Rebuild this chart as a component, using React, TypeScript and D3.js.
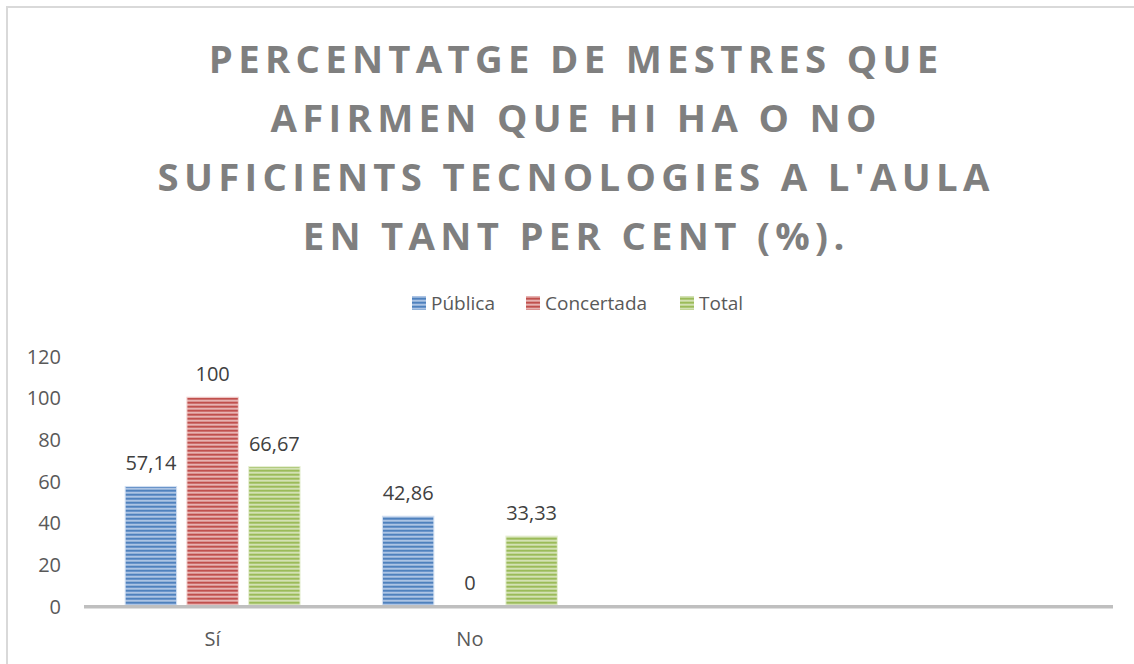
import React from "react";
import * as d3 from "d3";

const categories = ["Sí", "No", "", ""];
const seriesNames = ["Pública", "Concertada", "Total"];
const publica = [57.14, 42.86, null, null];
const concertada = [100, 0, null, null];
const total = [66.67, 33.33, null, null];
const yTicks = [0, 20, 40, 60, 80, 100, 120];
const titleLines = [
  "PERCENTATGE DE MESTRES QUE",
  "AFIRMEN QUE HI HA O NO",
  "SUFICIENTS TECNOLOGIES A L'AULA",
  "EN TANT PER CENT (%).",
];

const seriesValues = [publica, concertada, total];
const colors = [
  { dark: "#4f81bd", mid: "#86a8d6", light: "#d3e0f2" },
  { dark: "#c0504d", mid: "#d9908e", light: "#f4d6d5" },
  { dark: "#9bbb59", mid: "#bdd292", light: "#e8f0d6" },
];

const W = 1134;
const H = 664;
const left = 84;
const right = 1113;
const top = 355.5;
const bottom = 605.5;
const font = "'Open Sans', sans-serif";
const titleSpacing = 5.3;

export default function App() {
  const x0 = d3
    .scaleBand<number>()
    .domain(categories.map((_, i) => i))
    .range([left, right])
    .paddingInner(0)
    .paddingOuter(0);
  const x1 = d3
    .scaleBand<number>()
    .domain(seriesNames.map((_, i) => i))
    .range([0, x0.bandwidth()])
    .paddingInner(0.1667)
    .paddingOuter(0.6667);
  const y = d3.scaleLinear().domain([0, 120]).range([bottom, top]);

  const fmt = (v: number) => String(v).replace(".", ",");

  return (
    <svg
      width={W}
      height={H}
      style={{ position: "absolute", left: 0, top: 0, background: "#fff" }}
    >
      <defs>
        {colors.map((c, i) => (
          <pattern
            key={i}
            id={`stripe${i}`}
            patternUnits="userSpaceOnUse"
            width={8}
            height={4}
            y={bottom}
          >
            <rect x={0} y={0} width={8} height={2} fill={c.dark} />
            <rect x={0} y={2} width={8} height={1} fill={c.mid} />
            <rect x={0} y={3} width={8} height={1} fill={c.light} />
          </pattern>
        ))}
      </defs>
      <rect x={7} y={7} width={W + 10} height={H + 10} fill="#fff" stroke="#d9d9d9" strokeWidth={2} />

      {titleLines.map((t, i) => (
        <text
          key={i}
          x={573.5 + titleSpacing / 2}
          y={73 + i * 59}
          textAnchor="middle"
          fontFamily={font}
          fontWeight={700}
          fontSize={38.3}
          fill="#7f7f7f"
          letterSpacing={titleSpacing}
        >
          {t}
        </text>
      ))}

      {/* legend */}
      {seriesNames.map((s, i) => {
        const lx = [412, 526, 680][i];
        return (
          <g key={s}>
            <rect x={lx} y={296} width={14} height={14} fill={`url(#stripe${i})`} />
            <text x={lx + 19} y={310} fontFamily={font} fontSize={19} fill="#595959">
              {s}
            </text>
          </g>
        );
      })}

      {/* y ticks */}
      {yTicks.map((t) => (
        <text
          key={t}
          x={61}
          y={y(t) + 8}
          textAnchor="end"
          fontFamily={font}
          fontSize={20}
          fill="#595959"
        >
          {t}
        </text>
      ))}

      {/* bars */}
      {categories.map((c, ci) =>
        seriesValues.map((vals, si) => {
          const v = vals[ci];
          if (v === null || v === undefined) return null;
          const bx = (x0(ci) as number) + (x1(si) as number);
          const bw = x1.bandwidth();
          return (
            <g key={`${ci}-${si}`}>
              {v > 0 && (
                <rect
                  x={bx}
                  y={y(v)}
                  width={bw}
                  height={bottom - y(v)}
                  fill={`url(#stripe${si})`}
                  stroke={colors[si].light}
                  strokeWidth={1}
                />
              )}
              <text
                x={bx + bw / 2}
                y={y(v) - 16}
                textAnchor="middle"
                fontFamily={font}
                fontSize={20}
                fill="#404040"
              >
                {fmt(v)}
              </text>
            </g>
          );
        })
      )}

      {/* x axis */}
      <rect x={left} y={605} width={right - left} height={3.5} fill="#bfbfbf" />
      {categories.map((c, ci) => (
        <text
          key={ci}
          x={(x0(ci) as number) + x0.bandwidth() / 2}
          y={646}
          textAnchor="middle"
          fontFamily={font}
          fontSize={20}
          fill="#595959"
        >
          {c}
        </text>
      ))}
    </svg>
  );
}
